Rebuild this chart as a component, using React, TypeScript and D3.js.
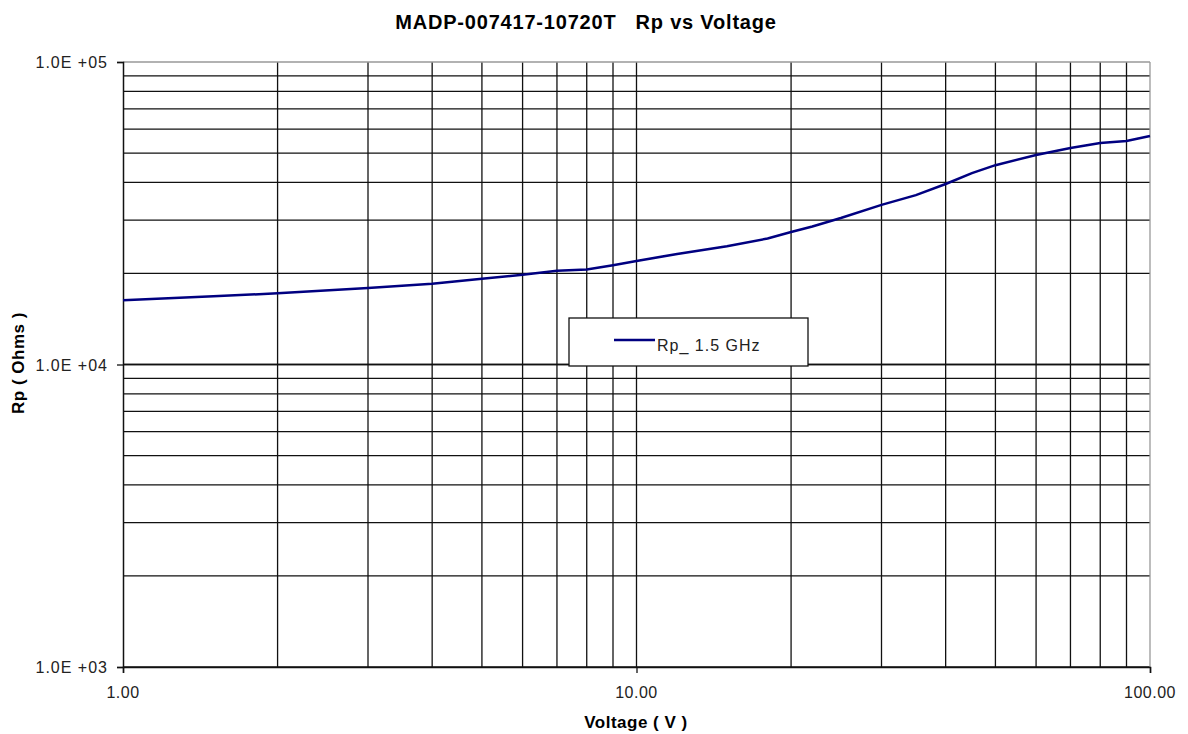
import * as d3 from "d3";
import { useEffect, useRef } from "react";

const voltage = [1, 1.5, 2, 3, 4, 5, 6, 7, 8, 9, 10, 12, 15, 18, 20, 22, 25, 30, 35, 40, 45, 50, 60, 70, 80, 90, 100];
const rp = [16300, 16800, 17200, 17900, 18500, 19200, 19800, 20400, 20600, 21300, 22000, 23200, 24600, 26100, 27400, 28600, 30500, 33700, 36300, 39500, 42900, 45600, 49300, 52000, 54000, 54800, 56900];
const xTicks = [1, 10, 100];
const yTicks = [1e3, 1e4, 1e5];
const seriesName = "Rp_ 1.5 GHz";

export default function App() {
    const ref = useRef<SVGSVGElement>(null);

    useEffect(() => {
        const svg = d3.select(ref.current);
        svg.selectAll("*").remove();

        const width = 1188,
            height = 734;
        const left = 123,
            right = 1150,
            top = 62,
            bottom = 667;
        const font = "'Liberation Sans', Arial, sans-serif";

        const x = d3.scaleLog().domain([1, 100]).range([left, right]);
        const y = d3.scaleLog().domain([1e3, 1e5]).range([bottom, top]);

        svg.append("rect").attr("width", width).attr("height", height).attr("fill", "white");

        // minor + major grid
        const xGrid: number[] = [];
        const yGrid: number[] = [];
        for (const d of [1, 10]) for (let k = 2; k <= 9; k++) xGrid.push(d * k);
        for (const d of [1e3, 1e4]) for (let k = 1; k <= 10; k++) yGrid.push(d * k);

        svg.append("g")
            .selectAll("line")
            .data(xGrid.concat([10]))
            .join("line")
            .attr("x1", (d) => x(d))
            .attr("x2", (d) => x(d))
            .attr("y1", top)
            .attr("y2", bottom)
            .attr("stroke", "#111")
            .attr("stroke-width", 1.3);

        svg.append("g")
            .selectAll("line")
            .data(yGrid.filter((d) => d < 1e5))
            .join("line")
            .attr("x1", left)
            .attr("x2", right)
            .attr("y1", (d) => y(d))
            .attr("y2", (d) => y(d))
            .attr("stroke", "#111")
            .attr("stroke-width", 1.3);

        // frame: top and right lighter
        svg.append("line").attr("x1", left).attr("x2", right).attr("y1", top).attr("y2", top).attr("stroke", "#999").attr("stroke-width", 1.3);
        svg.append("line").attr("x1", right).attr("x2", right).attr("y1", top).attr("y2", bottom).attr("stroke", "#999").attr("stroke-width", 1.3);

        // axes
        const yAxis = d3.axisLeft(y).tickValues(yTicks).tickSize(6).tickFormat(() => "");
        const gy = svg.append("g").attr("transform", `translate(${left},0)`).call(yAxis);
        gy.select(".domain").attr("stroke", "#111").attr("stroke-width", 1.5);
        gy.selectAll(".tick line").attr("stroke", "#111").attr("stroke-width", 1.3);

        const xAxis = d3.axisBottom(x).tickValues(xTicks).tickSize(6).tickFormat(() => "");
        const gx = svg.append("g").attr("transform", `translate(0,${bottom})`).call(xAxis);
        gx.select(".domain").attr("stroke", "#111").attr("stroke-width", 1.5);
        gx.selectAll(".tick line").attr("stroke", "#111").attr("stroke-width", 1.3);

        // tick labels
        svg.append("g")
            .selectAll("text")
            .data(yTicks)
            .join("text")
            .attr("x", 108)
            .attr("y", (d) => y(d) + 6)
            .attr("text-anchor", "end")
            .attr("font-family", font)
            .attr("font-size", 16)
            .attr("letter-spacing", 1)
            .attr("fill", "#222")
            .text((d) => "1.0E +0" + Math.round(Math.log10(d)));

        svg.append("g")
            .selectAll("text")
            .data(xTicks)
            .join("text")
            .attr("x", (d) => x(d))
            .attr("y", 698)
            .attr("text-anchor", "middle")
            .attr("font-family", font)
            .attr("font-size", 16)
            .attr("letter-spacing", 0.5)
            .attr("fill", "#222")
            .text((d) => d3.format(".2f")(d));

        // series
        const line = d3
            .line<number>()
            .x((d, i) => x(voltage[i]))
            .y((d) => y(d));

        svg.append("path")
            .datum(rp)
            .attr("d", line)
            .attr("fill", "none")
            .attr("stroke", "#000080")
            .attr("stroke-width", 2.5);

        // legend
        svg.append("rect")
            .attr("x", 569)
            .attr("y", 318)
            .attr("width", 239)
            .attr("height", 48)
            .attr("fill", "white")
            .attr("stroke", "#111")
            .attr("stroke-width", 1.3);
        svg.append("line").attr("x1", 614).attr("x2", 655).attr("y1", 340).attr("y2", 340).attr("stroke", "#000080").attr("stroke-width", 2.5);
        svg.append("text")
            .attr("x", 657)
            .attr("y", 351)
            .attr("font-family", font)
            .attr("font-size", 16)
            .attr("letter-spacing", 1)
            .attr("fill", "#222")
            .text(seriesName);

        // titles
        svg.append("text")
            .attr("x", 586)
            .attr("y", 29)
            .attr("text-anchor", "middle")
            .attr("font-family", font)
            .attr("font-size", 20)
            .attr("letter-spacing", 0.8)
            .attr("font-weight", "bold")
            .style("white-space", "pre")
            .text("MADP-007417-10720T   Rp vs Voltage");

        svg.append("text")
            .attr("x", 636)
            .attr("y", 728)
            .attr("text-anchor", "middle")
            .attr("font-family", font)
            .attr("font-size", 17)
            .attr("letter-spacing", 0.5)
            .attr("font-weight", "bold")
            .style("white-space", "pre")
            .text("Voltage ( V )");

        svg.append("text")
            .attr("transform", "translate(24,363) rotate(-90)")
            .attr("text-anchor", "middle")
            .attr("font-family", font)
            .attr("font-size", 17)
            .attr("letter-spacing", 0.5)
            .attr("font-weight", "bold")
            .style("white-space", "pre")
            .text("Rp ( Ohms )");
    }, []);

    return <svg ref={ref} width={1188} height={734} style={{ position: "absolute", left: 0, top: 0 }}></svg>;
}
